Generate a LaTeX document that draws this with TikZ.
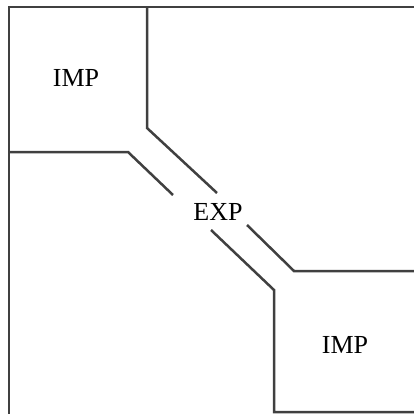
\documentclass[tikz,border=0pt]{standalone}
\usepackage{fontspec}
\setmainfont{Liberation Serif}
\begin{document}
\begin{tikzpicture}[x=1pt,y=-1pt,
  wall/.style={draw=black!75,line width=2.5pt,line join=miter},
  label/.style={inner sep=0pt,font=\fontsize{26}{26}\selectfont,text=black}]
\useasboundingbox (0,0) rectangle (414,414);
% corner coordinates
\coordinate (tr) at (414,7);
\coordinate (tl) at (9,7);
\coordinate (bl) at (9,414);
\coordinate (a1) at (147,7);
\coordinate (a2) at (147,128);
\coordinate (a3) at (217,193);
\coordinate (b1) at (247,225);
\coordinate (b2) at (294,271);
\coordinate (b3) at (414,271);
\coordinate (c1) at (9,152);
\coordinate (c2) at (128,152);
\coordinate (c3) at (173,195);
\coordinate (d1) at (211,230);
\coordinate (d2) at (274,290);
\coordinate (d3) at (274,412);
\coordinate (d4) at (414,412);
% walls
\draw[wall] (tr) -- (tl) -- (bl);
\draw[wall] (a1) -- (a2) -- (a3);
\draw[wall] (b1) -- (b2) -- (b3);
\draw[wall] (c1) -- (c2) -- (c3);
\draw[wall] (d1) -- (d2) -- (d3) -- (d4);
% labels
\node[label] (imp1) at (76,78) {IMP};
\node[label] (exp) at (218,212) {EXP};
\node[label] (imp2) at (345,345) {IMP};
\end{tikzpicture}
\end{document}
